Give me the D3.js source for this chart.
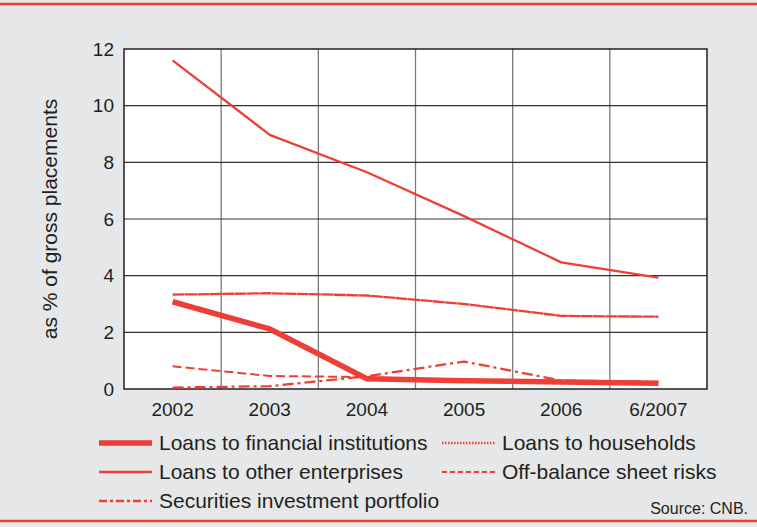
<!DOCTYPE html>
<html><head><meta charset="utf-8">
<script src="https://cdn.jsdelivr.net/npm/d3@7"></script>
<style>
html,body{margin:0;padding:0;background:#e6e7e8;}
svg{display:block;font-family:"Liberation Sans",Arial,Helvetica,sans-serif;}
</style></head>
<body><svg id="c" width="757" height="527"></svg>
<script>
const categories = ["2002","2003","2004","2005","2006","6/2007"];
const yTicks = [0,2,4,6,8,10,12];
const finInst    = [3.08, 2.12, 0.36, 0.29, 0.25, 0.20];
const otherEnt   = [11.6, 8.97, 7.65, 6.10, 4.47, 3.93];
const households = [3.33, 3.38, 3.30, 3.00, 2.58, 2.55];
const offBalance = [0.80, 0.46, 0.42, 0.30, 0.22, 0.20];
const securities = [0.05, 0.10, 0.45, 0.97, 0.30, 0.25];

const RED = "#ee3e36";
const series = [
  {name:"Loans to financial institutions", values:finInst, width:5.5, dash:null, legendDash:null},
  {name:"Loans to other enterprises", values:otherEnt, width:2.3, dash:null, legendDash:null},
  {name:"Loans to households", values:households, width:2.3, dash:"12,0.4", legendDash:"1.5,1.5"},
  {name:"Off-balance sheet risks", values:offBalance, width:2, dash:"9,4", legendDash:"5,3"},
  {name:"Securities investment portfolio", values:securities, width:2.3, dash:"11,4,3,4", legendDash:"8,3,3,3"}
];

const svg = d3.select("#c");
const W = 757, H = 527;
const L = 124, R = 707, T = 49, B = 389;

svg.append("line").attr("x1",0).attr("x2",W).attr("y1",4).attr("y2",4).attr("stroke",RED).attr("stroke-width",2.5);
svg.append("line").attr("x1",0).attr("x2",W).attr("y1",521).attr("y2",521).attr("stroke",RED).attr("stroke-width",2.5);

const x = d3.scaleBand().domain(categories).range([L,R]).padding(0);
const y = d3.scaleLinear().domain([0,12]).range([B,T]);

svg.append("rect").attr("x",L).attr("y",T).attr("width",R-L).attr("height",B-T).attr("fill","#fff");

svg.append("g").selectAll("line").data(categories.slice(1)).join("line")
  .attr("x1",d=>x(d)).attr("x2",d=>x(d)).attr("y1",T).attr("y2",B)
  .attr("stroke","#7a7a7a").attr("stroke-width",1.3);
svg.append("g").selectAll("line").data(yTicks.slice(1,-1)).join("line")
  .attr("x1",L).attr("x2",R).attr("y1",d=>y(d)).attr("y2",d=>y(d))
  .attr("stroke","#333").attr("stroke-width",1.2);

const yAxis = d3.axisLeft(y).tickValues(yTicks).tickSize(0).tickPadding(10).tickFormat(d3.format("d"));
const gy = svg.append("g").attr("transform",`translate(${L},0)`).call(yAxis);
gy.select(".domain").remove();
gy.selectAll("text").attr("font-size",19).attr("fill","#231f20").attr("font-family","Liberation Sans, Arial, sans-serif");

const xAxis = d3.axisBottom(x).tickSize(0).tickPadding(14);
const gx = svg.append("g").attr("transform",`translate(0,${B})`).call(xAxis);
gx.select(".domain").remove();
gx.selectAll("text").attr("font-size",19).attr("fill","#231f20").attr("font-family","Liberation Sans, Arial, sans-serif");

svg.append("rect").attr("x",L).attr("y",T).attr("width",R-L).attr("height",B-T)
  .attr("fill","none").attr("stroke","#231f20").attr("stroke-width",1.5);

svg.append("text").attr("transform",`translate(50,${(T+B)/2}) rotate(-90)`)
  .attr("text-anchor","middle").attr("dy","0.35em").attr("font-size",21).attr("fill","#231f20")
  .text("as % of gross placements");

const line = d3.line().x((d,i)=>x(categories[i])+x.bandwidth()/2).y(d=>y(d));
const drawOrder = [1,2,3,0,4];
drawOrder.forEach(k=>{
  const s = series[k];
  svg.append("path").datum(s.values).attr("d",line)
    .attr("fill","none").attr("stroke",RED).attr("stroke-width",s.width)
    .attr("stroke-dasharray",s.dash).attr("stroke-linejoin","round");
});

const legendPos = [
  {x:99, y:443}, {x:99, y:472}, {x:442, y:443}, {x:442, y:472}, {x:99, y:501}
];
series.forEach((s,i)=>{
  const p = legendPos[i];
  svg.append("line").attr("x1",p.x).attr("x2",p.x+53).attr("y1",p.y).attr("y2",p.y)
    .attr("stroke",RED).attr("stroke-width",s.width).attr("stroke-dasharray",s.legendDash);
  svg.append("text").attr("x",p.x+60).attr("y",p.y).attr("dy","0.35em")
    .attr("font-size",21).attr("fill","#231f20").text(s.name);
});

svg.append("text").attr("x",748).attr("y",508).attr("dy","0.35em").attr("text-anchor","end")
  .attr("font-size",16).attr("fill","#231f20").text("Source: CNB.");
</script></body></html>
